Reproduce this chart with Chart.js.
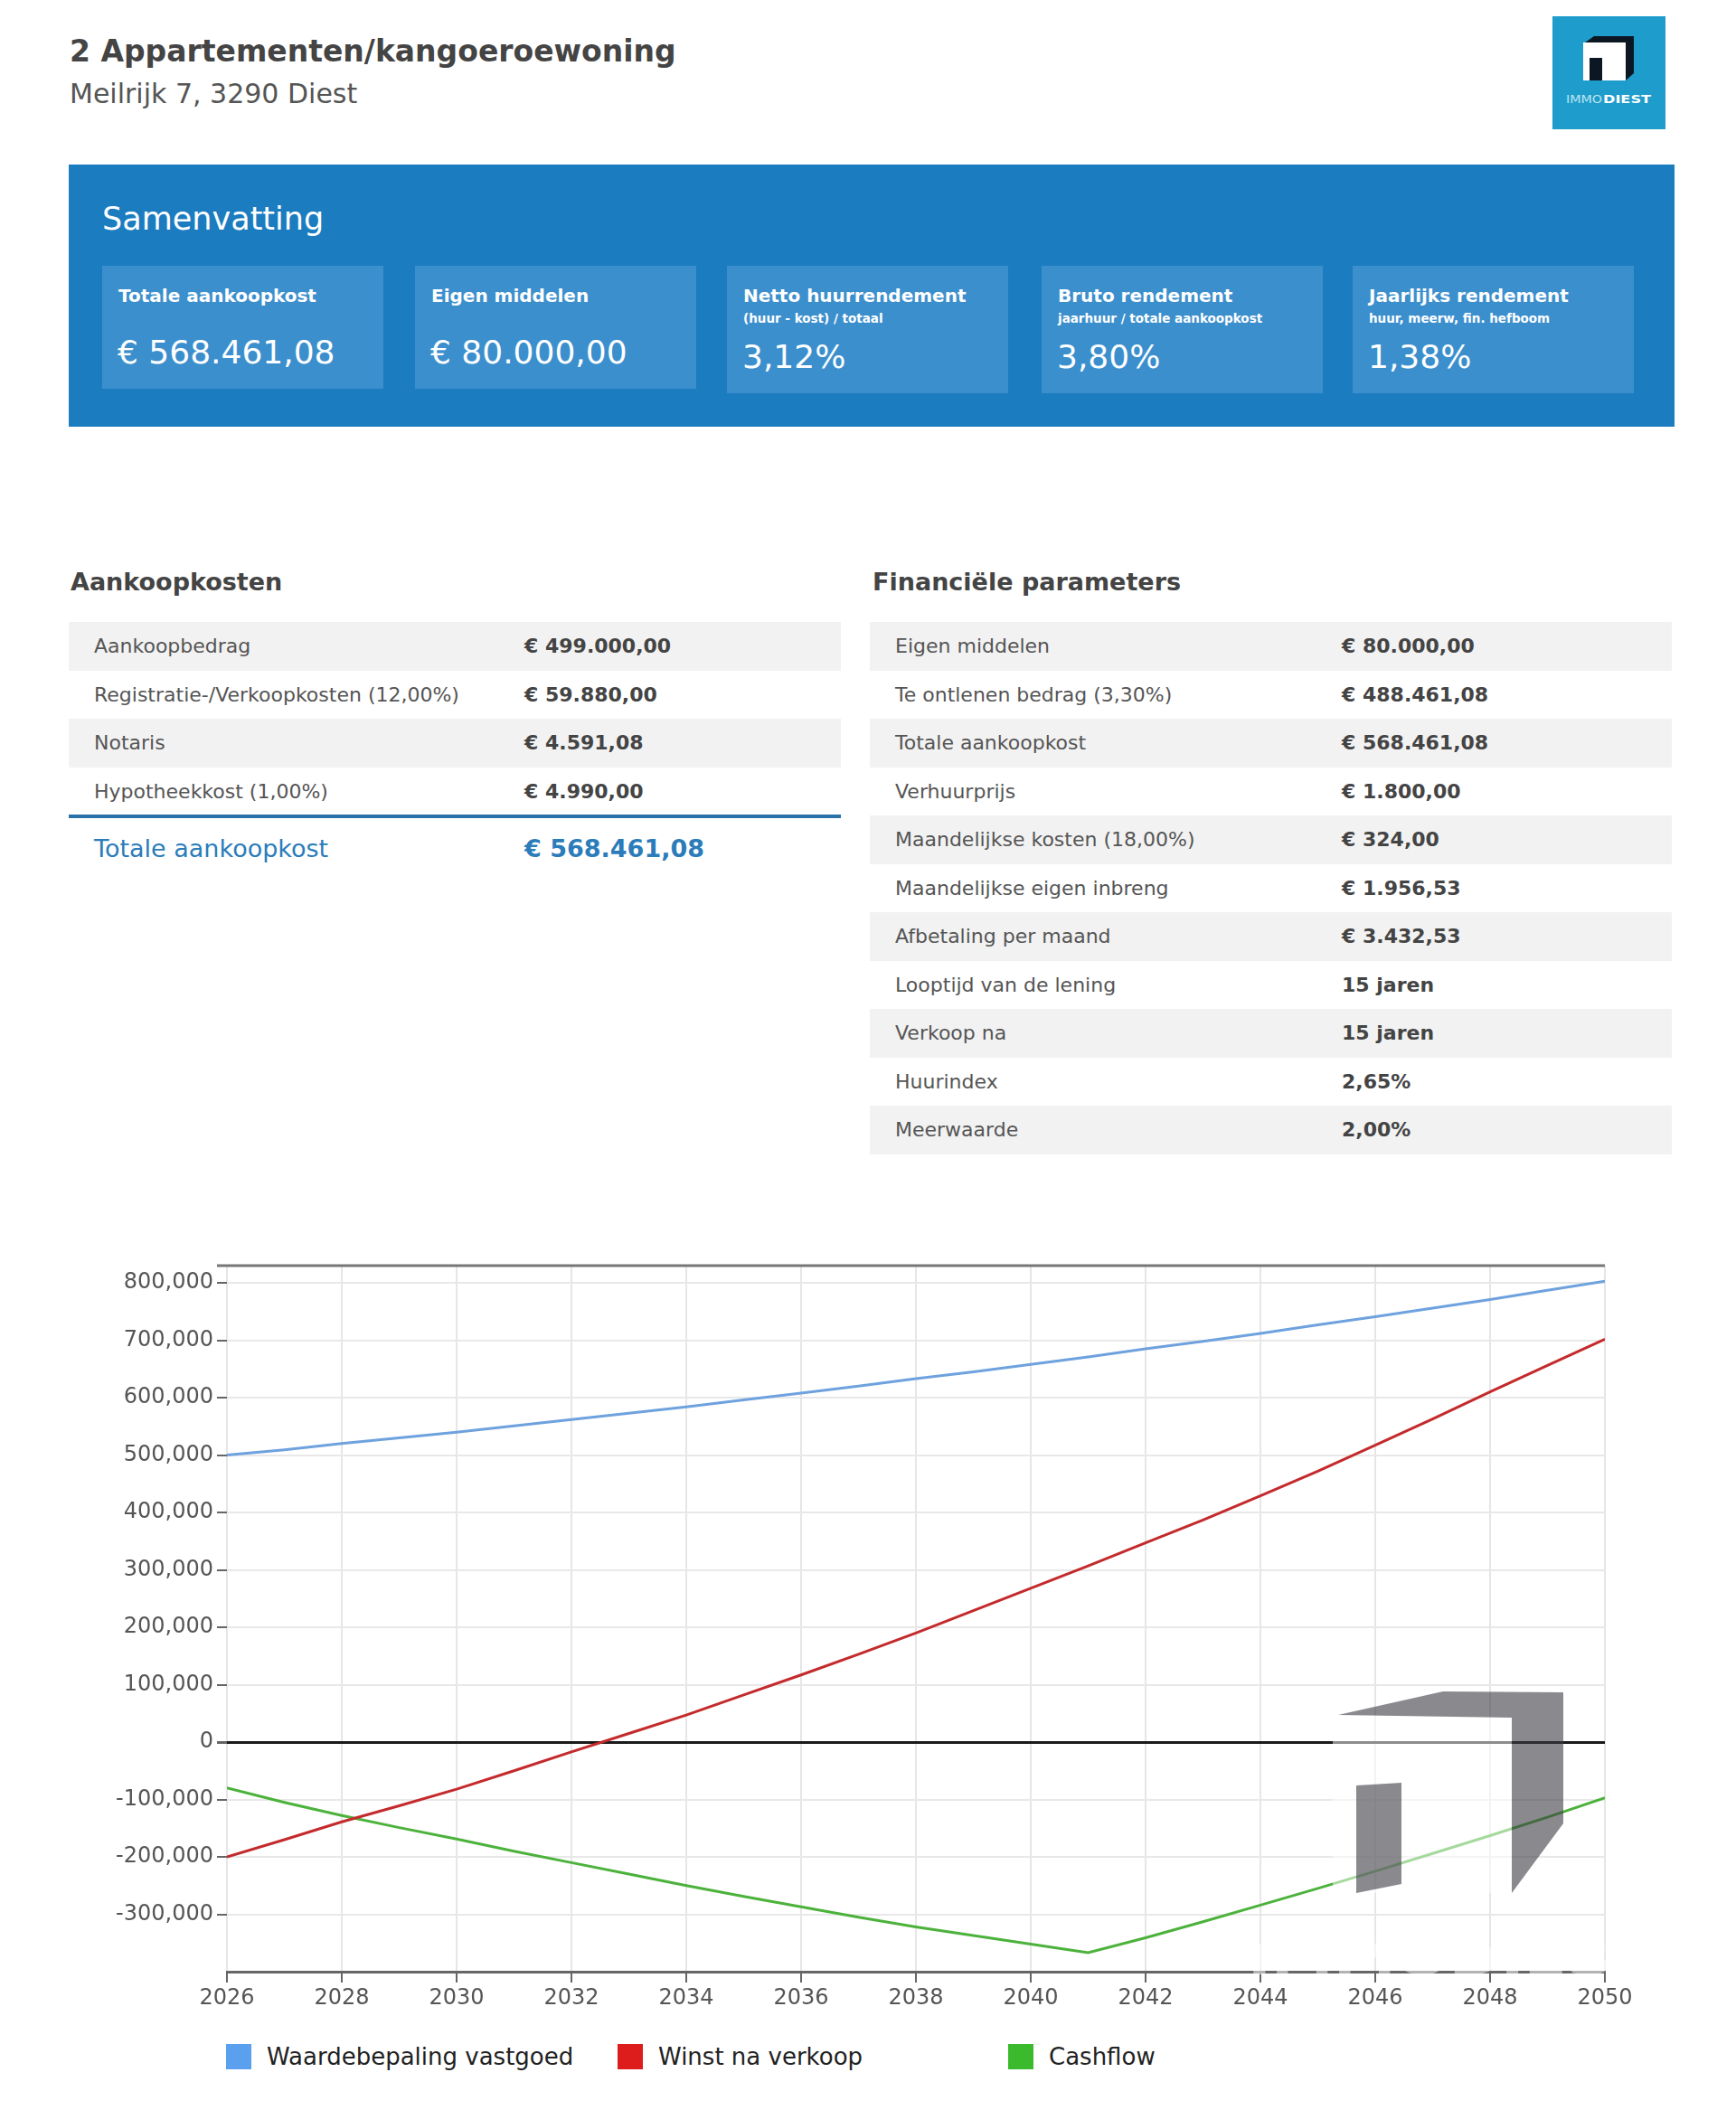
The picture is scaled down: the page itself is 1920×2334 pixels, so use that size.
<!DOCTYPE html>
<html>
<head>
<meta charset="utf-8">
<script src="https://cdn.jsdelivr.net/npm/chart.js@4.4.1/dist/chart.umd.min.js"></script>
<style>
  html, body { margin:0; padding:0; background:#fff; }
  body { width:1920px; height:2334px; position:relative; overflow:hidden; font-family:"DejaVu Sans", Verdana, sans-serif; }
  .abs { position:absolute; white-space:nowrap; }
  .title { left:77px; top:37px; font-size:33px; font-weight:bold; color:#444; line-height:40px; }
  .subtitle { left:77px; top:85px; font-size:30px; color:#555; line-height:38px; }
  .summary { left:76px; top:182px; width:1776px; height:290px; background:#1b7cc0; }
  .summary h2 { position:absolute; left:37px; top:38px; margin:0; font-size:35px; font-weight:normal; color:#fff; line-height:44px; }
  .card { position:absolute; top:112px; width:311px; height:136px; background:#3c8fcd; color:#fff; }
  .card.tall { height:141px; }
  .card .lbl { position:absolute; left:18px; top:20px; font-size:20px; font-weight:bold; line-height:26px; }
  .card .sub { position:absolute; left:18px; top:50px; font-size:13.5px; font-weight:bold; line-height:16px; }
  .card .val { position:absolute; left:17px; top:74px; font-size:36px; line-height:44px; }
  .card.tall .val { top:79px; }
  .sec { top:626px; font-size:27px; font-weight:bold; color:#444; line-height:36px; }
  table.t { position:absolute; border-collapse:collapse; top:688px; }
  table.t td { height:53.5px; padding:0; font-size:22px; vertical-align:middle; }
  table.t tr:nth-child(odd) td { background:#f2f2f2; }
  table.t td.l { color:#555; }
  table.t td.v { color:#444; font-weight:bold; }
  .totline { left:76px; top:901px; width:854px; height:4px; background:#2a72a8; }
  .totl { left:104px; top:922px; font-size:27px; color:#2b7cba; line-height:34px; }
  .totv { left:580px; top:922px; font-size:27px; font-weight:bold; color:#2b7cba; line-height:34px; }
  #chartWrap { position:absolute; left:20px; top:1380px; width:1800px; height:860px; }
  #legend { position:absolute; left:0; top:2258px; width:1920px; height:40px; }
  .li { position:absolute; top:0; height:34px; }
  .li .box { position:absolute; left:0; top:3px; width:28px; height:28px; }
  .li .txt { position:absolute; left:45px; top:0; font-size:26px; color:#222; line-height:34px; white-space:nowrap; }
</style>
</head>
<body>

<div class="abs title">2 Appartementen/kangoeroewoning</div>
<div class="abs subtitle">Meilrijk 7, 3290 Diest</div>

<svg class="abs" style="left:1717px;top:18px" width="125" height="125" viewBox="0 0 125 125">
  <rect x="0" y="0" width="125" height="125" fill="#1e9ccb"/>
  <polygon points="36,29 46,22 90,22 90,63 81,71 81,29" fill="#0b1824"/>
  <rect x="34" y="29" width="47" height="42" fill="#ffffff"/>
  <rect x="41" y="46" width="14" height="25" fill="#0b1824"/>
  <text x="15" y="96" font-family="DejaVu Sans" font-size="13" fill="#bfe6f5" textLength="40" lengthAdjust="spacingAndGlyphs">IMMO</text>
  <text x="56" y="96" font-family="DejaVu Sans" font-weight="bold" font-size="13" fill="#ffffff" textLength="53" lengthAdjust="spacingAndGlyphs">DIEST</text>
</svg>

<div class="abs summary">
  <h2>Samenvatting</h2>
  <div class="card" style="left:37px"><div class="lbl">Totale aankoopkost</div><div class="val">€ 568.461,08</div></div>
  <div class="card" style="left:383px"><div class="lbl">Eigen middelen</div><div class="val">€ 80.000,00</div></div>
  <div class="card tall" style="left:728px"><div class="lbl">Netto huurrendement</div><div class="sub">(huur - kost) / totaal</div><div class="val">3,12%</div></div>
  <div class="card tall" style="left:1076px"><div class="lbl">Bruto rendement</div><div class="sub">jaarhuur / totale aankoopkost</div><div class="val">3,80%</div></div>
  <div class="card tall" style="left:1420px"><div class="lbl">Jaarlijks rendement</div><div class="sub">huur, meerw, fin. hefboom</div><div class="val">1,38%</div></div>
</div>

<div class="abs sec" style="left:78px">Aankoopkosten</div>
<div class="abs sec" style="left:965px">Financiële parameters</div>

<table class="t" style="left:76px;width:854px">
  <tr><td class="l" style="padding-left:28px;width:476px">Aankoopbedrag</td><td class="v">€ 499.000,00</td></tr>
  <tr><td class="l" style="padding-left:28px">Registratie-/Verkoopkosten (12,00%)</td><td class="v">€ 59.880,00</td></tr>
  <tr><td class="l" style="padding-left:28px">Notaris</td><td class="v">€ 4.591,08</td></tr>
  <tr><td class="l" style="padding-left:28px;background:#fff">Hypotheekkost (1,00%)</td><td class="v" style="background:#fff">€ 4.990,00</td></tr>
</table>
<div class="abs totline"></div>
<div class="abs totl">Totale aankoopkost</div>
<div class="abs totv">€ 568.461,08</div>

<table class="t" style="left:962px;width:887px">
  <tr><td class="l" style="padding-left:28px;width:494px">Eigen middelen</td><td class="v">€ 80.000,00</td></tr>
  <tr><td class="l" style="padding-left:28px">Te ontlenen bedrag (3,30%)</td><td class="v">€ 488.461,08</td></tr>
  <tr><td class="l" style="padding-left:28px">Totale aankoopkost</td><td class="v">€ 568.461,08</td></tr>
  <tr><td class="l" style="padding-left:28px">Verhuurprijs</td><td class="v">€ 1.800,00</td></tr>
  <tr><td class="l" style="padding-left:28px">Maandelijkse kosten (18,00%)</td><td class="v">€ 324,00</td></tr>
  <tr><td class="l" style="padding-left:28px">Maandelijkse eigen inbreng</td><td class="v">€ 1.956,53</td></tr>
  <tr><td class="l" style="padding-left:28px">Afbetaling per maand</td><td class="v">€ 3.432,53</td></tr>
  <tr><td class="l" style="padding-left:28px">Looptijd van de lening</td><td class="v">15 jaren</td></tr>
  <tr><td class="l" style="padding-left:28px">Verkoop na</td><td class="v">15 jaren</td></tr>
  <tr><td class="l" style="padding-left:28px">Huurindex</td><td class="v">2,65%</td></tr>
  <tr><td class="l" style="padding-left:28px">Meerwaarde</td><td class="v">2,00%</td></tr>
</table>

<div id="chartWrap"><canvas id="c"></canvas></div>

<svg class="abs" style="left:1360px;top:1850px;pointer-events:none" width="480" height="360" viewBox="0 0 480 360">
  <rect x="114" y="47" width="198" height="197" fill="#ffffff" fill-opacity="0.5"/>
  <polygon points="120,47 236,21 369,22 369,167 312,244 312,50" fill="rgb(60,60,66)" fill-opacity="0.6"/>
  <polygon points="140,125 190,122 190,234 140,244" fill="rgb(60,60,66)" fill-opacity="0.6"/>
  <text x="20" y="334" font-family="DejaVu Sans" font-weight="bold" font-size="46" fill="#ffffff" fill-opacity="0.5" textLength="450" lengthAdjust="spacingAndGlyphs">IMMODIEST</text>
</svg>

<div id="legend"></div>

<script>
// ---- data ----
const years = [2026,2027,2028,2029,2030,2031,2032,2033,2034,2035,2036,2037,2038,2039,2040,2041,2042,2043,2044,2045,2046,2047,2048,2049,2050];
const waardeVastgoed = [500000,509000,520000,530000,540000,551000,562000,573000,584000,596000,608000,620000,633000,645000,658000,671000,685000,698000,712000,727000,741000,756000,771000,787000,803000];
const winstNaVerkoop = [-200000,-170000,-139000,-111000,-82000,-50000,-17000,15000,47000,82000,117000,153000,190000,229000,268000,307000,347000,387000,429000,472000,517000,563000,610000,656000,702000];
const cashflow = [-80000,-105000,-128000,-149000,-169000,-190000,-210000,-230000,-250000,-269000,-287000,-305000,-322000,-337000,-352000,-367000,-341000,-313000,-284000,-255000,-225000,-194000,-163000,-131000,-97000];
const seriesLabels = ["Waardebepaling vastgoed","Winst na verkoop","Cashflow"];
const lineColors = ["#6ea2de","#c42a2c","#4cb23c"];
const legendColors = ["#5aa0ee","#dd1c1c","#3cba2e"];
const xTickValues = [2026,2028,2030,2032,2034,2036,2038,2040,2042,2044,2046,2048,2050];
const yTickValues = [-300000,-200000,-100000,0,100000,200000,300000,400000,500000,600000,700000,800000];
const yMin = -400000, yMax = 830000;

const seriesValues = [waardeVastgoed, winstNaVerkoop, cashflow];
const datasets = seriesValues.map((vals, i) => ({
  label: seriesLabels[i],
  data: years.map((yr, j) => ({ x: yr, y: vals[j] })),
  borderColor: lineColors[i],
  backgroundColor: lineColors[i],
  borderWidth: 3,
  pointRadius: 0,
  tension: 0,
  fill: false
}));

const topBorder = {
  id: 'topBorder',
  beforeDatasetsDraw(chart) {
    const { ctx, chartArea } = chart;
    ctx.save();
    ctx.strokeStyle = '#777';
    ctx.lineWidth = 3;
    ctx.beginPath();
    ctx.moveTo(chartArea.left - 11, chartArea.top);
    ctx.lineTo(chartArea.right, chartArea.top);
    ctx.stroke();
    ctx.restore();
  }
};

new Chart(document.getElementById('c'), {
  type: 'line',
  data: { datasets },
  plugins: [topBorder],
  options: {
    responsive: true,
    maintainAspectRatio: false,
    animation: false,
    layout: { padding: { top: 20, right: 45, bottom: 11, left: 0 } },
    plugins: { legend: { display: false }, tooltip: { enabled: false } },
    scales: {
      x: {
        type: 'linear',
        min: years[0],
        max: years[years.length - 1],
        afterBuildTicks: s => { s.ticks = xTickValues.map(v => ({ value: v })); },
        afterFit: s => { s.height = 48; },
        grid: { color: '#e6e6e6', lineWidth: 2, tickLength: 12, tickColor: '#666', drawTicks: true },
        border: { display: true, color: '#666', width: 3 },
        ticks: { color: '#555', font: { family: 'DejaVu Sans', size: 24 }, padding: 3, maxRotation: 0, autoSkip: false, callback: v => String(v) }
      },
      y: {
        type: 'linear',
        min: yMin,
        max: yMax,
        afterBuildTicks: s => { s.ticks = yTickValues.map(v => ({ value: v })); },
        afterFit: s => { s.width = 231; },
        grid: {
          color: c => (c.tick && c.tick.value === 0) ? '#1a1a1a' : '#e8e8e8',
          lineWidth: c => (c.tick && c.tick.value === 0) ? 3 : 2,
          tickLength: 11,
          tickColor: '#666'
        },
        border: { display: false },
        ticks: { color: '#555', font: { family: 'DejaVu Sans', size: 24 }, padding: 4, autoSkip: false, callback: v => v.toLocaleString('en-US') }
      }
    }
  }
});

// legend built from the series arrays
const legend = document.getElementById('legend');
const legendLeft = [250, 683, 1115];
seriesLabels.forEach((lab, i) => {
  const d = document.createElement('div');
  d.className = 'li';
  d.style.left = legendLeft[i] + 'px';
  d.innerHTML = '<div class="box" style="background:' + legendColors[i] + '"></div><div class="txt">' + lab + '</div>';
  legend.appendChild(d);
});
</script>
</body>
</html>
